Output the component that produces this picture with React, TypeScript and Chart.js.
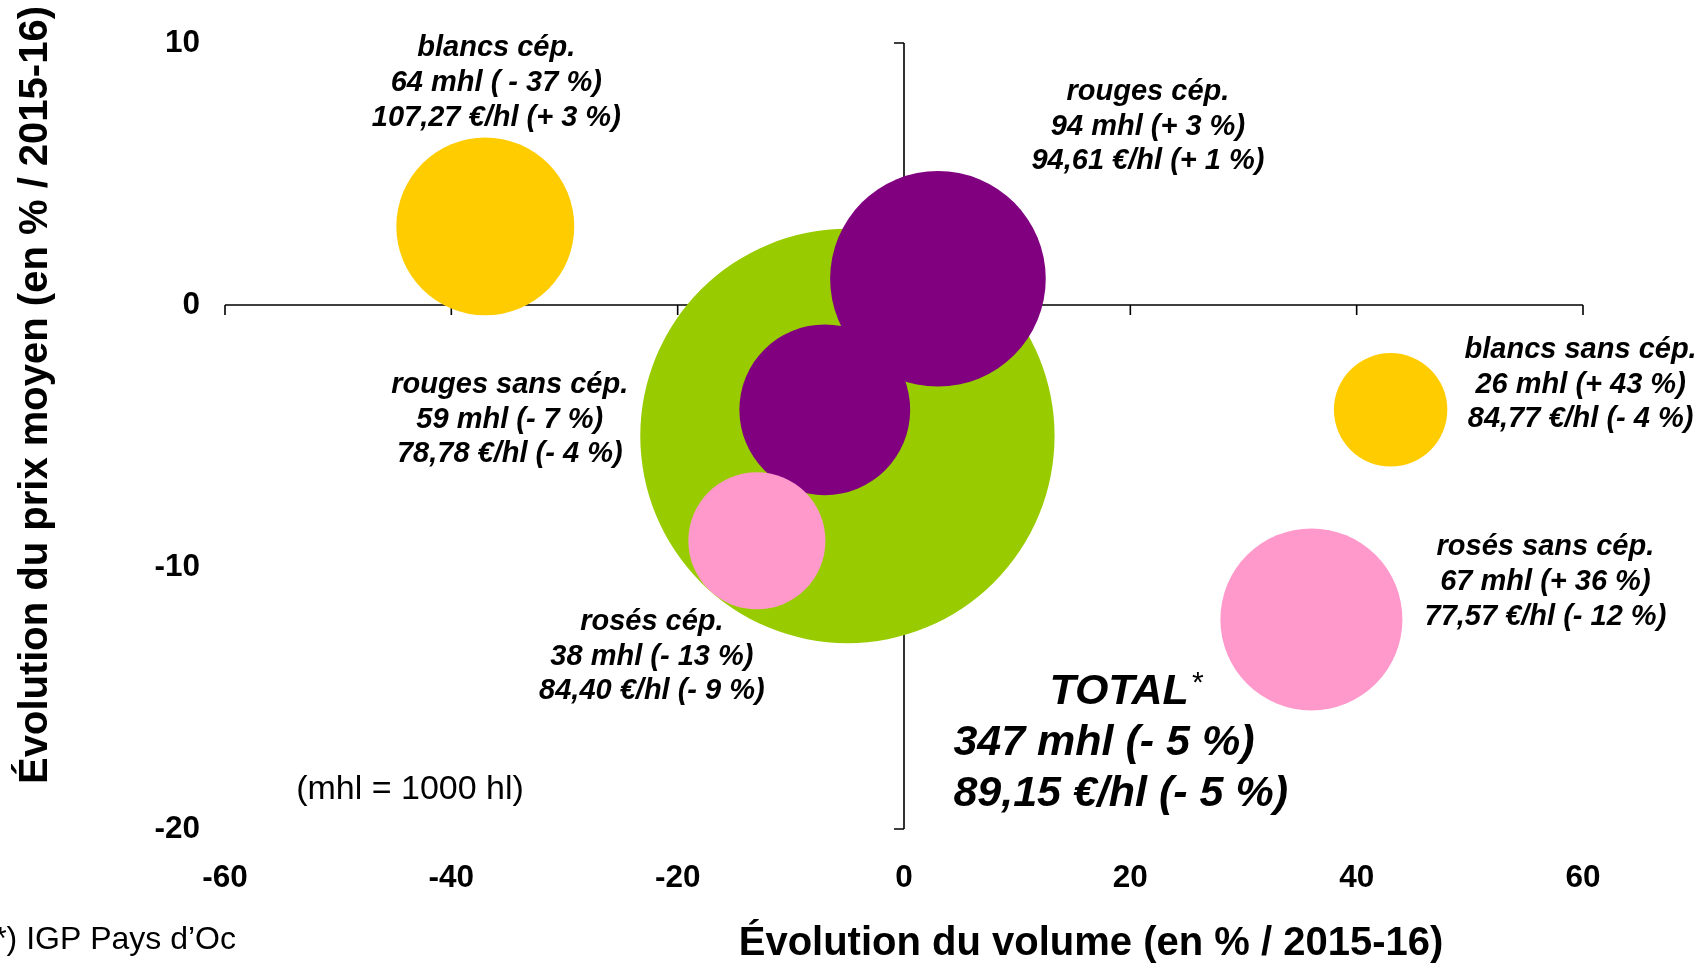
import React, { useEffect, useRef } from "react";
import { Chart, registerables } from "chart.js";

Chart.register(...registerables);

// ---- Data ----
const categories = [
  "TOTAL",
  "blancs cép.",
  "rouges cép.",
  "rouges sans cép.",
  "rosés cép.",
  "blancs sans cép.",
  "rosés sans cép.",
];
const volumesMhl = [347, 64, 94, 59, 38, 26, 67];
const volumeChangePct = [-5, -37, 3, -7, -13, 43, 36];
const priceChangePct = [-5, 3, 1, -4, -9, -4, -12];
const priceLabels = ["89,15", "107,27", "94,61", "78,78", "84,40", "84,77", "77,57"];
const volumeChangeLabels = ["(- 5 %)", "( - 37 %)", "(+ 3 %)", "(- 7 %)", "(- 13 %)", "(+ 43 %)", "(+ 36 %)"];
const priceChangeLabels = ["(- 5 %)", "(+ 3 %)", "(+ 1 %)", "(- 4 %)", "(- 9 %)", "(- 4 %)", "(- 12 %)"];
const xTicks = [-60, -40, -20, 0, 20, 40, 60];
const yTicks = [10, 0, -10, -20];

// ---- Styles / layout ----
const colors = ["#99CC00", "#FFCC00", "#800080", "#800080", "#FF99CC", "#FFCC00", "#FF99CC"];
const RADIUS_K = 11.12; // px per sqrt(mhl)
const FONT = '"Liberation Sans", Arial, sans-serif';
// label offsets (px) of the first line centre relative to the bubble centre
const labelOffsets: [number, number][] = [
  [0, 0],
  [11, -178],
  [210, -187],
  [-315, -25],
  [-105, 81],
  [190, -60],
  [234, -72],
];
const LINE_H = 34.7;

const overlayPlugin = {
  id: "overlay",
  beforeDatasetsDraw(chart: any) {
    const ctx = chart.ctx;
    const xs = chart.scales.x;
    const ys = chart.scales.y;
    const x0 = xs.getPixelForValue(0);
    const y0 = ys.getPixelForValue(0);
    ctx.save();
    ctx.strokeStyle = "#000";
    ctx.lineWidth = 1.6;
    ctx.beginPath();
    ctx.moveTo(xs.getPixelForValue(xTicks[0]), y0);
    ctx.lineTo(xs.getPixelForValue(xTicks[xTicks.length - 1]), y0);
    xTicks.forEach((t) => {
      const px = xs.getPixelForValue(t);
      ctx.moveTo(px, y0);
      ctx.lineTo(px, y0 + 10);
    });
    ctx.moveTo(x0, ys.getPixelForValue(yTicks[0]));
    ctx.lineTo(x0, ys.getPixelForValue(yTicks[yTicks.length - 1]));
    yTicks.forEach((t) => {
      const py = ys.getPixelForValue(t);
      ctx.moveTo(x0, py);
      ctx.lineTo(x0 - 10, py);
    });
    ctx.stroke();
    ctx.restore();
  },
  afterDraw(chart: any) {
    const ctx = chart.ctx;
    const xs = chart.scales.x;
    const ys = chart.scales.y;
    ctx.save();
    ctx.fillStyle = "#000";

    // tick labels
    ctx.font = `bold 31.5px ${FONT}`;
    ctx.textAlign = "right";
    ctx.textBaseline = "middle";
    yTicks.forEach((t) => ctx.fillText(String(t), 200, ys.getPixelForValue(t)));
    ctx.textAlign = "center";
    xTicks.forEach((t) => ctx.fillText(String(t), xs.getPixelForValue(t), 878));

    // axis titles
    ctx.font = `bold 40px ${FONT}`;
    ctx.fillText("Évolution du volume (en % / 2015-16)", 1091, 944);
    ctx.save();
    ctx.translate(36, 395);
    ctx.rotate(-Math.PI / 2);
    ctx.fillText("Évolution du prix moyen (en % / 2015-16)", 0, 0);
    ctx.restore();

    // bubble labels
    ctx.font = `italic bold 29px ${FONT}`;
    ctx.textAlign = "center";
    for (let i = 1; i < categories.length; i++) {
      const cx = xs.getPixelForValue(volumeChangePct[i]) + labelOffsets[i][0];
      const cy = ys.getPixelForValue(priceChangePct[i]) + labelOffsets[i][1];
      ctx.fillText(categories[i], cx, cy);
      ctx.fillText(`${volumesMhl[i]} mhl ${volumeChangeLabels[i]}`, cx, cy + LINE_H);
      ctx.fillText(`${priceLabels[i]} €/hl ${priceChangeLabels[i]}`, cx, cy + 2 * LINE_H);
    }

    // total label
    const tx = xs.getPixelForValue(volumeChangePct[0]);
    const ty = ys.getPixelForValue(priceChangePct[0]);
    ctx.font = `italic bold 43px ${FONT}`;
    ctx.textAlign = "left";
    ctx.fillText(categories[0], tx + 202, ty + 256);
    const tw = ctx.measureText(categories[0]).width;
    ctx.font = `italic 30px ${FONT}`;
    ctx.fillText("*", tx + 202 + tw + 2, ty + 248);
    ctx.font = `italic bold 43px ${FONT}`;
    ctx.fillText(`${volumesMhl[0]} mhl ${volumeChangeLabels[0]}`, tx + 106, ty + 307);
    ctx.fillText(`${priceLabels[0]} €/hl ${priceChangeLabels[0]}`, tx + 106, ty + 358);

    // notes
    ctx.font = `34px ${FONT}`;
    ctx.textAlign = "center";
    ctx.fillText("(mhl = 1000 hl)", 410, 790);
    ctx.font = `32px ${FONT}`;
    ctx.textAlign = "right";
    ctx.fillText("(*) IGP Pays d’Oc", 236, 940);
    ctx.restore();
  },
};

export default function App() {
  const canvasRef = useRef<HTMLCanvasElement | null>(null);

  useEffect(() => {
    if (!canvasRef.current) return;
    const points = categories.map((_, i) => ({
      x: volumeChangePct[i],
      y: priceChangePct[i],
      r: RADIUS_K * Math.sqrt(volumesMhl[i]),
    }));
    const chart = new Chart(canvasRef.current, {
      type: "bubble",
      data: {
        datasets: [
          {
            data: points,
            backgroundColor: colors,
            borderWidth: 0,
            hoverBorderWidth: 0,
            clip: false,
          } as any,
        ],
      },
      options: {
        animation: false,
        responsive: false,
        events: [],
        layout: { autoPadding: false, padding: { left: 225, right: 121, top: 43, bottom: 136 } },
        scales: {
          x: { type: "linear", min: -60, max: 60, display: false },
          y: { type: "linear", min: -20, max: 10, display: false },
        },
        plugins: { legend: { display: false }, tooltip: { enabled: false } },
      } as any,
      plugins: [overlayPlugin],
    });
    return () => chart.destroy();
  }, []);

  return (
    <div style={{ position: "absolute", left: 0, top: 0, width: 1704, height: 965, background: "#fff" }}>
      <canvas ref={canvasRef} width={1704} height={965} style={{ width: 1704, height: 965 }} />
    </div>
  );
}
